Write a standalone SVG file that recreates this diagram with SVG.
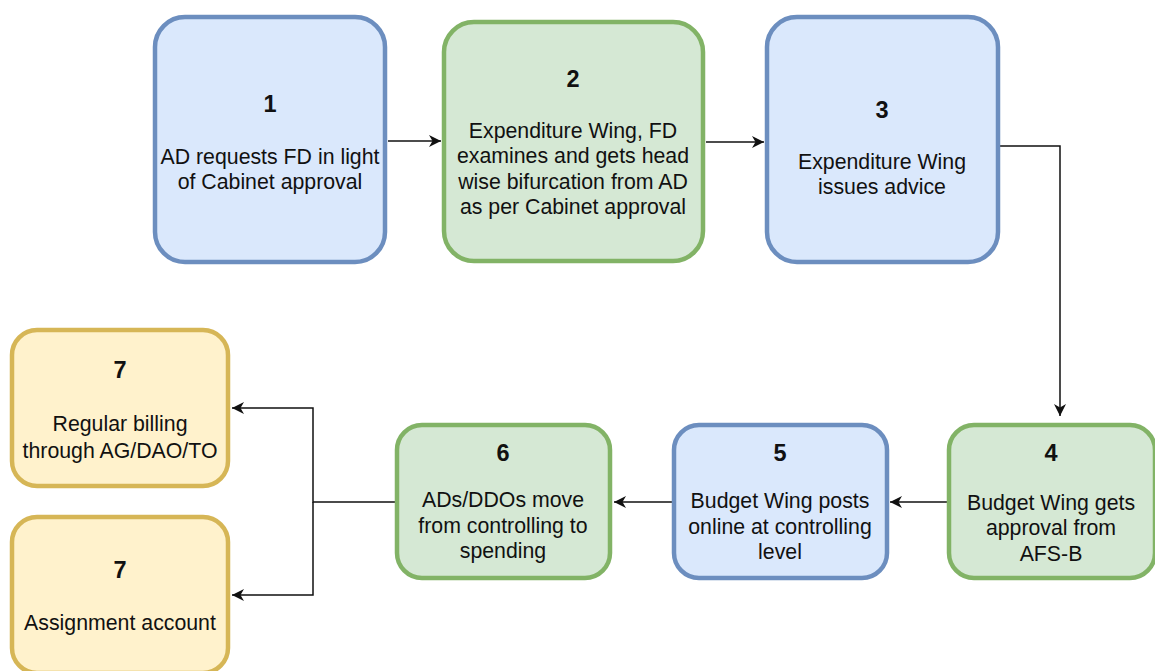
<svg xmlns="http://www.w3.org/2000/svg" width="1155" height="671" viewBox="0 0 1155 671">
<style>
.box{stroke-width:4.5}
.blue{fill:#dae8fc;stroke:#6c8ebf}
.green{fill:#d5e8d4;stroke:#82b366}
.yellow{fill:#fff2cc;stroke:#d6b656}
.num{font-family:"Liberation Sans",Arial,sans-serif;font-size:23.5px;font-weight:bold;fill:#111;text-anchor:middle}
.lbl{font-family:"Liberation Sans",Arial,sans-serif;font-size:21.3px;fill:#111;text-anchor:middle}
.edge{fill:none;stroke:#111;stroke-width:1.5}
</style>
<defs>
<marker id="arr" markerUnits="userSpaceOnUse" markerWidth="13" markerHeight="13" refX="12" refY="6" orient="auto">
<path d="M0,0 L12,6 L0,12 L3.5,6 z" fill="#111"/>
</marker>
</defs>
<rect width="1155" height="671" fill="#ffffff"/>
<g id="connectors">
<path class="edge" d="M388,141 L441,141" marker-end="url(#arr)"/>
<path class="edge" d="M706,142 L764,142" marker-end="url(#arr)"/>
<path class="edge" d="M1000,146 L1060,146 L1060,416" marker-end="url(#arr)"/>
<path class="edge" d="M947,502 L890,502" marker-end="url(#arr)"/>
<path class="edge" d="M672,502 L614,502" marker-end="url(#arr)"/>
<path class="edge" d="M395,502 L313,502 L313,408 L232,408" marker-end="url(#arr)"/>
<path class="edge" d="M313,502 L313,595 L232,595" marker-end="url(#arr)"/>
</g>
<g id="node1">
<rect class="box blue" x="155" y="17" width="230" height="245" rx="30"/>
<text class="num" x="270" y="112">1</text>
<text class="lbl" x="270" y="164">AD requests FD in light</text>
<text class="lbl" x="270" y="189">of Cabinet approval</text>
</g>
<g id="node2">
<rect class="box green" x="444" y="22" width="259" height="239" rx="30"/>
<text class="num" x="573" y="87">2</text>
<text class="lbl" x="573" y="138">Expenditure Wing, FD</text>
<text class="lbl" x="573" y="163">examines and gets head</text>
<text class="lbl" x="573" y="189">wise bifurcation from AD</text>
<text class="lbl" x="573" y="214">as per Cabinet approval</text>
</g>
<g id="node3">
<rect class="box blue" x="767" y="17" width="231" height="245" rx="30"/>
<text class="num" x="882" y="118">3</text>
<text class="lbl" x="882" y="169">Expenditure Wing</text>
<text class="lbl" x="882" y="194">issues advice</text>
</g>
<g id="node4">
<rect class="box green" x="949" y="425" width="206" height="153" rx="25"/>
<text class="num" x="1051" y="461">4</text>
<text class="lbl" x="1051" y="510">Budget Wing gets</text>
<text class="lbl" x="1051" y="535">approval from</text>
<text class="lbl" x="1051" y="561">AFS-B</text>
</g>
<g id="node5">
<rect class="box blue" x="674" y="425" width="213" height="153" rx="25"/>
<text class="num" x="780" y="461">5</text>
<text class="lbl" x="780" y="508">Budget Wing posts</text>
<text class="lbl" x="780" y="534">online at controlling</text>
<text class="lbl" x="780" y="559">level</text>
</g>
<g id="node6">
<rect class="box green" x="397" y="425" width="213" height="153" rx="25"/>
<text class="num" x="503" y="461">6</text>
<text class="lbl" x="503" y="507">ADs/DDOs move</text>
<text class="lbl" x="503" y="533">from controlling to</text>
<text class="lbl" x="503" y="558">spending</text>
</g>
<g id="node7a">
<rect class="box yellow" x="12" y="330" width="216" height="156" rx="25"/>
<text class="num" x="120" y="378">7</text>
<text class="lbl" x="120" y="431">Regular billing</text>
<text class="lbl" x="120" y="458">through AG/DAO/TO</text>
</g>
<g id="node7b">
<rect class="box yellow" x="12" y="517" width="216" height="156" rx="25"/>
<text class="num" x="120" y="578">7</text>
<text class="lbl" x="120" y="630">Assignment account</text>
</g>
</svg>
